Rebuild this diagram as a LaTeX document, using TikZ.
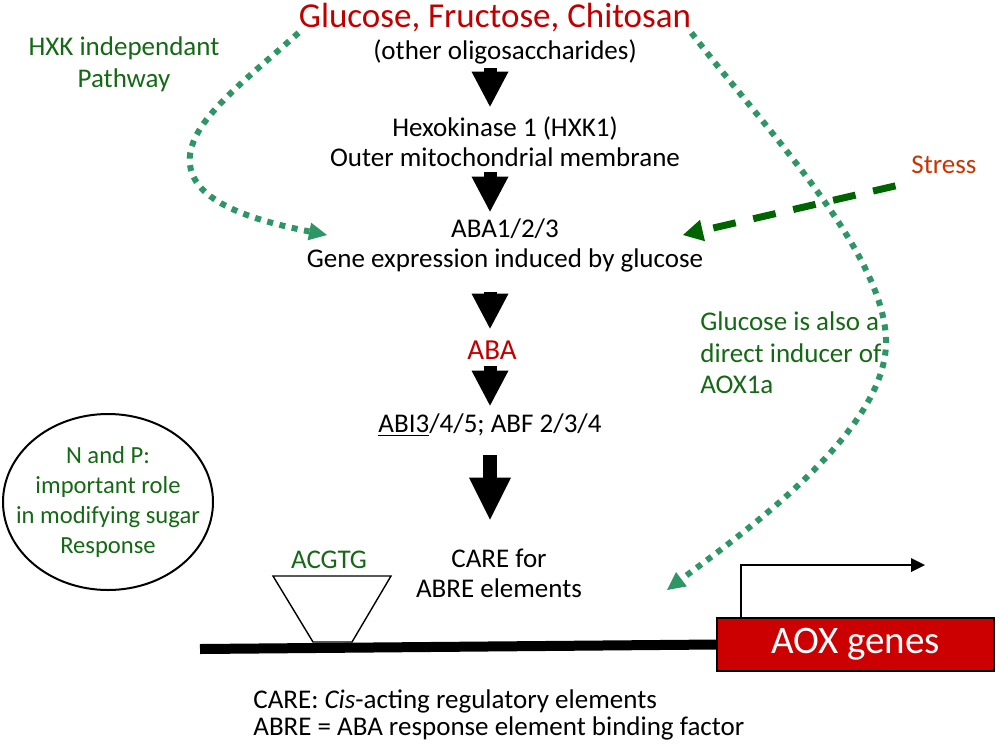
\documentclass[tikz,border=0pt]{standalone}
\usepackage{fontspec}
\setmainfont{Carlito}
\usetikzlibrary{arrows.meta,shapes.geometric}

\definecolor{sugarred}{RGB}{192,0,0}
\definecolor{genered}{RGB}{204,0,0}
\definecolor{stressred}{RGB}{204,51,0}
\definecolor{notegreen}{RGB}{20,105,20}
\definecolor{dotgreen}{RGB}{46,150,100}
\definecolor{dashgreen}{RGB}{0,100,0}

\newcommand{\bodyfont}{\fontsize{13.5}{15}\selectfont}

\begin{document}
\begin{tikzpicture}[x=0.5pt,y=-0.5pt,
  every node/.style={inner sep=0pt, align=center, font=\bodyfont},
  oneline/.style={minimum height=16pt},
  twoline/.style={minimum height=30pt},
  note/.style={text=notegreen},
  blockarrow/.style={line width=6.5pt,-{Triangle[width=18.5pt,length=17.5pt,line width=0pt]}},
  bigarrow/.style={line width=7pt,-{Triangle[width=21pt,length=21pt,line width=0pt]}},
  hxkpath/.style={dotgreen,line width=3pt,dash pattern=on 3pt off 3.3pt,
    -{Triangle[width=9pt,length=9pt,line width=0pt]}},
  stresspath/.style={dashgreen,line width=3.5pt,dash pattern=on 11.5pt off 9pt,
    -{Triangle[width=11pt,length=10pt,line width=0pt]}}]

\useasboundingbox (0,0) rectangle (1000,750);

% level 0: sugars
\node[font=\fontsize{17.5}{20}\selectfont, text=sugarred] (sugar) at (495,18) {Glucose, Fructose, Chitosan};
\node[oneline] (oligo) at (505,52) {(other oligosaccharides)};

% level 1
\node[twoline] (hxk) at (505,142) {Hexokinase 1 (HXK1)\\Outer mitochondrial membrane};

% level 2
\node[twoline] (abagene) at (505,245) {ABA1/2/3\\Gene expression induced by glucose};

% level 3
\node[oneline, font=\fontsize{14.5}{16}\selectfont, text=sugarred] (aba) at (492,350) {ABA};
\node[oneline] (abi) at (490,425) {\underline{ABI3}/4/5; ABF 2/3/4};

% level 4
\node[twoline] (care) at (499,573) {CARE for\\ABRE elements};
\node[note] (acgtg) at (329,560) {ACGTG};

% notes
\node[note, font=\fontsize{13.5}{16}\selectfont] (hxkfree) at (124,64) {HXK independant\\Pathway};
\node[text=stressred] (stress) at (944,165) {Stress};
\node[note, align=left, anchor=west, font=\fontsize{13.5}{15.7}\selectfont] (direct) at (700,353)
  {Glucose is also a\\direct inducer of\\AOX1a};
\node[note, draw=black, line width=1pt, ellipse, inner xsep=-20pt, inner ysep=-10pt,
  minimum width=105pt, minimum height=88pt,
  font=\fontsize{12.3}{15}\selectfont] (np) at (108,502)
  {N and P:\\important role\\in modifying sugar\\Response};

% gene
\node[draw=black, line width=0.9pt, fill=genered, text=white, minimum width=138.5pt,
  minimum height=26.5pt, font=\fontsize{19.5}{22}\selectfont] (aox) at (855.5,644.5) {AOX genes};
\coordinate (dna) at (200,649);
\coordinate (tss) at (925,565);
\coordinate (aoxin) at (667,590);
\coordinate (hxkin) at (327,235);
\coordinate (stressin) at (683,235);
\coordinate (axis) at (490,0);

\draw[line width=5pt] (dna) -- (aox.west);
\draw[line width=0.7pt, fill=white] (273,576) -- (391,576) -- (352,642) -- (313,642) -- cycle;
\draw[line width=1pt, -{Triangle[width=7pt,length=7pt,line width=0pt]}]
  ([xshift=12.5pt]aox.north west) |- (tss);

% main chain
\draw[blockarrow, shorten >=2.5pt] (oligo.south -| axis) -- (hxk.north -| axis);
\draw[blockarrow, shorten >=1.5pt] (hxk.south -| axis) -- (abagene.north -| axis);
\draw[blockarrow, shorten <=8.5pt, shorten >=2.5pt] (abagene.south -| axis) -- (aba.north -| axis);
\draw[blockarrow, shorten >=1.5pt] (aba.south -| axis) -- (abi.north -| axis);
\draw[bigarrow, shorten <=7pt, shorten >=11.5pt] (abi.south -| axis) -- (care.north -| axis);

% side paths
\draw[hxkpath] (sugar.south west) .. controls (240,85) and (185,125) .. (190,165)
  .. controls (195,205) and (262,222) .. (hxkin);
\draw[hxkpath] (sugar.south east) .. controls (760,123) and (884,250) .. (886,340)
  .. controls (888,430) and (747,530) .. (aoxin);
\draw[stresspath, shorten <=8pt] ([yshift=-4pt]stress.south west) -- (stressin);

\node[anchor=west, align=left, font=\fontsize{13.5}{13.3}\selectfont] (legend) at (253,715)
  {CARE: \emph{Cis}-acting regulatory elements\\ABRE = ABA response element binding factor};

\end{tikzpicture}
\end{document}
